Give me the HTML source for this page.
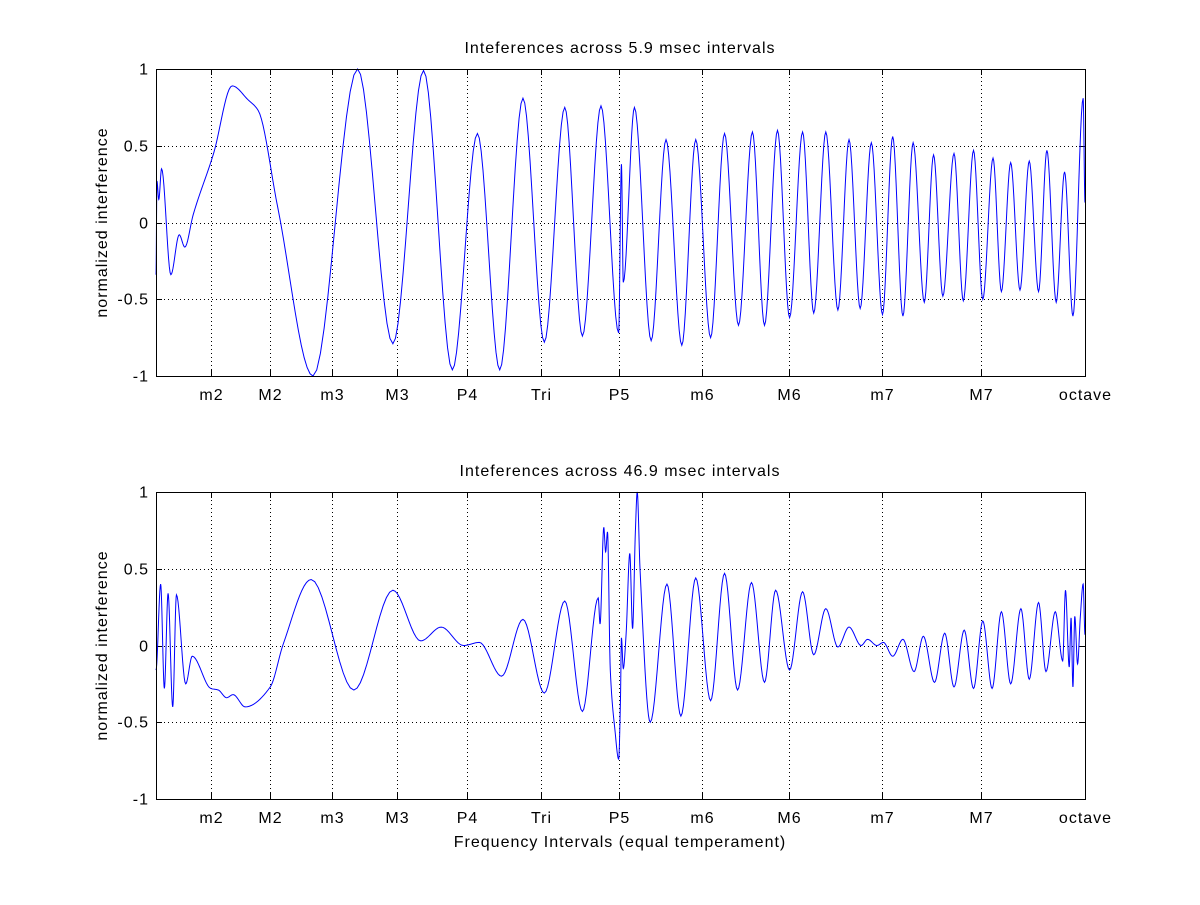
<!DOCTYPE html>
<html><head><meta charset="utf-8"><style>
body{margin:0;background:#fff}
svg text{font-family:"Liberation Sans",sans-serif;font-size:16px;letter-spacing:1px;fill:#000}
</style></head><body>
<svg id="fig" width="1200" height="900" xmlns="http://www.w3.org/2000/svg">
<rect width="1200" height="900" fill="#fff"/>
</svg>
<script>
const xTickVals=[1.0595,1.1225,1.1892,1.2599,1.3348,1.4142,1.4983,1.5874,1.6818,1.7818,1.8877,2.0];
const xTickLabels=["m2","M2","m3","M3","P4","Tri","P5","m6","M6","m7","M7","octave"];
const yTickVals=[-1,-0.5,0,0.5,1];
const yTickLabels=["-1","-0.5","0","0.5","1"];
const topTitle="Inteferences across 5.9 msec intervals";
const bottomTitle="Inteferences across 46.9 msec intervals";
const topX=[1.000,1.001,1.003,1.006,1.016,1.025,1.031,1.040,1.062,1.082,1.099,1.110,1.131,1.169,1.217,1.255,1.288,1.319,1.346,1.370,1.395,1.418,1.440,1.459,1.479,1.498,1.501,1.503,1.515,1.533,1.549,1.566,1.581,1.597,1.612,1.627,1.642,1.655,1.669,1.682,1.696,1.708,1.721,1.734,1.746,1.758,1.770,1.782,1.793,1.804,1.815,1.827,1.837,1.847,1.859,1.869,1.880,1.890,1.901,1.910,1.920,1.930,1.940,1.950,1.959,1.969,1.978,1.987,1.998,2.000];
const topY=[-0.34,0.27,0.15,0.35,-0.34,-0.08,-0.16,0.05,0.45,0.89,0.80,0.73,0.10,-1.0,1.0,-0.79,0.99,-0.96,0.58,-0.96,0.81,-0.78,0.75,-0.74,0.76,-0.72,0.38,-0.39,0.75,-0.77,0.54,-0.80,0.54,-0.75,0.58,-0.67,0.59,-0.67,0.60,-0.62,0.59,-0.59,0.59,-0.57,0.54,-0.56,0.52,-0.60,0.56,-0.61,0.52,-0.52,0.44,-0.48,0.45,-0.51,0.47,-0.50,0.42,-0.45,0.39,-0.44,0.40,-0.45,0.47,-0.52,0.33,-0.61,0.81,0.13];
const botX=[1.000,1.005,1.009,1.013,1.018,1.022,1.032,1.039,1.059,1.067,1.076,1.083,1.096,1.123,1.137,1.167,1.213,1.255,1.285,1.307,1.331,1.348,1.372,1.395,1.418,1.440,1.459,1.476,1.478,1.482,1.484,1.486,1.489,1.494,1.498,1.500,1.501,1.503,1.506,1.510,1.513,1.516,1.518,1.521,1.532,1.550,1.565,1.581,1.597,1.612,1.626,1.641,1.655,1.667,1.682,1.696,1.708,1.721,1.734,1.746,1.759,1.766,1.776,1.783,1.793,1.804,1.816,1.826,1.838,1.849,1.859,1.870,1.880,1.890,1.900,1.910,1.920,1.931,1.940,1.950,1.958,1.968,1.976,1.979,1.983,1.985,1.987,1.989,1.992,1.995,1.998,2.000];
const botY=[-0.16,0.40,-0.28,0.34,-0.40,0.33,-0.25,-0.07,-0.28,-0.29,-0.34,-0.32,-0.40,-0.27,0.01,0.43,-0.29,0.36,0.03,0.12,0.0,0.02,-0.20,0.17,-0.31,0.29,-0.43,0.31,0.14,0.77,0.61,0.74,-0.16,-0.55,-0.74,-0.34,0.05,-0.15,0.07,0.60,0.11,0.74,1.0,0.50,-0.50,0.40,-0.46,0.44,-0.36,0.47,-0.29,0.41,-0.24,0.36,-0.16,0.35,-0.06,0.24,-0.01,0.12,0.0,0.04,0.0,0.02,-0.07,0.04,-0.17,0.06,-0.24,0.08,-0.27,0.10,-0.28,0.16,-0.28,0.22,-0.25,0.24,-0.22,0.28,-0.17,0.22,-0.10,0.36,-0.14,0.18,-0.27,0.19,-0.12,0.19,0.40,0.07];

const NS="http://www.w3.org/2000/svg";
const svg=document.getElementById('fig');
function el(tag,attrs,parent){const e=document.createElementNS(NS,tag);for(const k in attrs)e.setAttribute(k,attrs[k]);(parent||svg).appendChild(e);return e;}
const X0=156,X1=1085;
function xs(v){return X0+(v-1)*(X1-X0);}

function mono(xa,ya){
  const n=xa.length,d=[],m=new Array(n).fill(0);
  for(let i=0;i<n-1;i++)d.push((ya[i+1]-ya[i])/(xa[i+1]-xa[i]));
  m[0]=d[0];m[n-1]=d[n-2];
  for(let i=1;i<n-1;i++){if(d[i-1]*d[i]<=0)m[i]=0;else{const w1=2*(xa[i+1]-xa[i])+(xa[i]-xa[i-1]),w2=(xa[i+1]-xa[i])+2*(xa[i]-xa[i-1]);m[i]=(w1+w2)/(w1/d[i-1]+w2/d[i]);}}
  m[0]=0;m[n-1]=0;
  const pts=[];
  for(let i=0;i<n-1;i++){const h=xa[i+1]-xa[i],steps=12;
    for(let s=0;s<steps;s++){const t=s/steps,t2=t*t,t3=t2*t;
      const y=(2*t3-3*t2+1)*ya[i]+(t3-2*t2+t)*h*m[i]+(-2*t3+3*t2)*ya[i+1]+(t3-t2)*h*m[i+1];
      pts.push([xa[i]+t*h,y]);}}
  pts.push([xa[n-1],ya[n-1]]);return pts;
}

function panel(Ytop,Ybot,title,xa,ya,name,showXLabel){
  const ys=v=>Ybot-(v+1)/2*(Ybot-Ytop);
  const g=el('g',{});
  
  
  xTickVals.forEach((v,i)=>{const x=Math.round(xs(v))+0.5;
    if(i<xTickVals.length-1){const gl=el('line',{x1:x,x2:x,y1:Ytop,y2:Ybot,stroke:'#000','stroke-width':1,'stroke-dasharray':'1,3'},g);
      }
    el('line',{x1:x,x2:x,y1:Ybot,y2:Ybot-6,stroke:'#000'},g);
    el('line',{x1:x,x2:x,y1:Ytop,y2:Ytop+6,stroke:'#000'},g);
    const t=el('text',{x:x,y:Ybot+24,'text-anchor':'middle'},g);t.textContent=xTickLabels[i];
    
  });
  yTickVals.forEach((v,i)=>{const y=Math.round(ys(v))+0.5;
    if(v>-1&&v<1){const gl=el('line',{x1:X0,x2:X1,y1:y,y2:y,stroke:'#000','stroke-dasharray':'1,3'},g);
      }
    el('line',{x1:X0,x2:X0+6,y1:y,y2:y,stroke:'#000'},g);
    el('line',{x1:X1-6,x2:X1,y1:y,y2:y,stroke:'#000'},g);
    const t=el('text',{x:X0-7,y:y+5,'text-anchor':'end'},g);t.textContent=yTickLabels[i];
    
  });
  const pts=mono(xa,ya);
  const p=el('path',{d:'M'+pts.map(q=>xs(q[0]).toFixed(2)+','+ys(q[1]).toFixed(2)).join('L'),fill:'none',stroke:'#0000ff','stroke-width':1},g);
  
  const b=el('rect',{x:X0+0.5,y:Ytop+0.5,width:X1-X0,height:Ybot-Ytop,fill:'none',stroke:'#000'},g);
  
  const tt=el('text',{x:620,y:Ytop-16,'text-anchor':'middle'},g);tt.textContent=title;
  
  const yl=el('text',{x:0,y:0,'text-anchor':'middle',transform:`translate(107,${(Ytop+Ybot)/2}) rotate(-90)`},g);yl.textContent='normalized interference';
  
  if(showXLabel){const xl=el('text',{x:620,y:Ybot+48,'text-anchor':'middle'},g);xl.textContent='Frequency Intervals (equal temperament)';
    }
}
panel(69,376,topTitle,topX,topY,'top',false);
panel(492,799,bottomTitle,botX,botY,'bottom',true);
</script>
</body></html>
